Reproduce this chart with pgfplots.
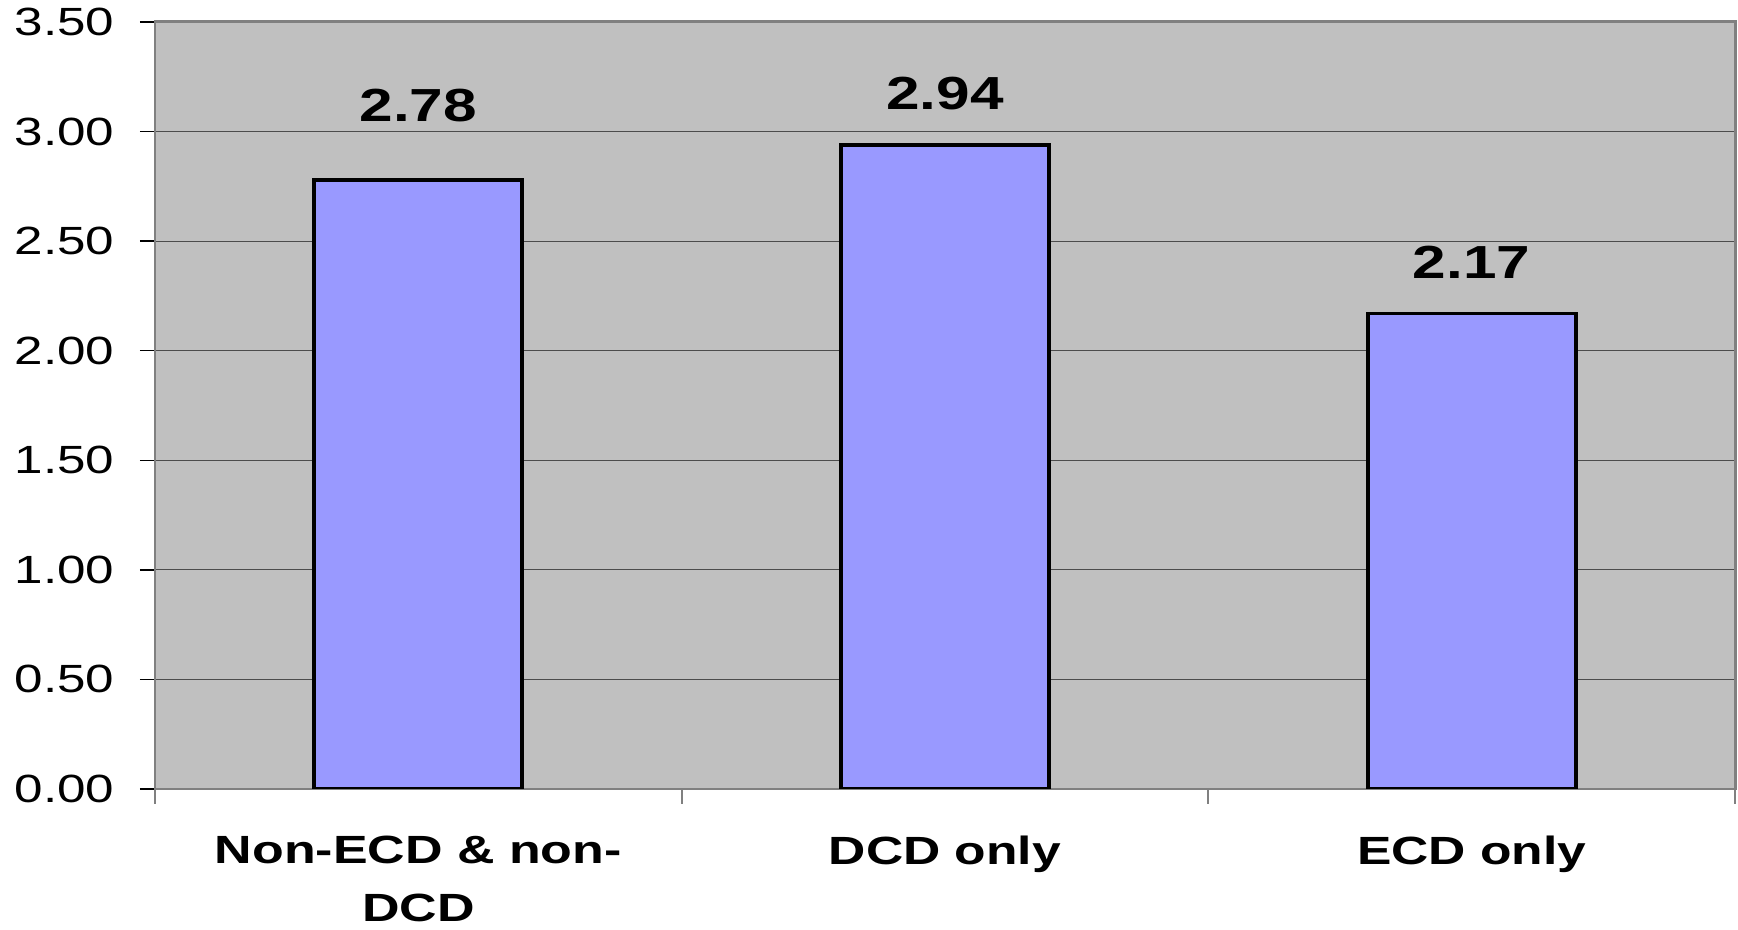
\documentclass[border=0pt]{standalone}
\usepackage{pgfplots}
\usepackage{pgfplotstable}
\pgfplotsset{compat=1.18}
\usepackage{fontspec}
\setmainfont{Liberation Sans}
\usepackage{graphicx}
\definecolor{plotgray}{HTML}{C0C0C0}
\definecolor{framegray}{HTML}{808080}
\definecolor{barblue}{HTML}{9999FF}
\pgfplotstableread{
x y off
0 2.78 5.6
1 2.94 3.25
2 2.17 3.3
}\bardata
\begin{document}
\begin{tikzpicture}
\begin{axis}[
  scale only axis, width=158mm, height=76.7mm,
  xmin=-0.5, xmax=2.5, ymin=0, ymax=3.5,
  /pgf/number format/assume math mode=true,
  axis background/.style={fill=plotgray},
  axis line style={draw=framegray, line width=0.85pt},
  ytick={0,0.5,1,1.5,2,2.5,3,3.5},
  ymajorgrids, major grid style={draw=black!70, line width=0.35pt},
  tick align=outside, ytick pos=left, xtick pos=bottom,
  major tick length=1.5mm,
  ytick style={draw=black, line width=0.4pt},
  yticklabel={\scalebox{1.3}[1]{\pgfmathprintnumber[fixed,fixed zerofill,precision=2,assume math mode=true]{\tick}}},
  yticklabel style={font=\fontsize{11.2}{13}\selectfont, anchor=east, inner sep=0pt, xshift=-2.5mm},
  xtick={-0.5,0.5,1.5,2.5}, xticklabels={},
  xtick style={draw=framegray, line width=0.6pt},
  extra x ticks={0,1,2},
  extra x tick labels={{\scalebox{1.32}[1]{Non-ECD \& non-}\\\scalebox{1.32}[1]{DCD}},\scalebox{1.31}[1]{DCD only},\scalebox{1.31}[1]{ECD only}},
  extra x tick style={major tick length=0pt, tick style={draw=none}, grid=none},
  xticklabel style={font=\fontsize{11.2}{16.5}\selectfont\bfseries, align=center, anchor=north, inner sep=0pt, yshift=-4.6mm},
  nodes near coords={\scalebox{1.3}[1]{\pgfmathprintnumber[fixed,fixed zerofill,precision=2,assume math mode=true]{\pgfplotspointmeta}}},
  visualization depends on={\thisrow{off} \as \myoff},
  nodes near coords style={font=\fontsize{13.2}{15}\selectfont\bfseries, anchor=south, inner sep=0pt, yshift=\myoff*1mm},
]
\addplot[ybar, bar width=0.395, fill=barblue, draw=black, line width=1.1pt] table[x=x, y=y] {\bardata};
\end{axis}
\pgfresetboundingbox
\path[use as bounding box] ([shift={(-15.5mm,-14.1mm)}]current axis.south west) rectangle ([shift={(0.3mm,2.2mm)}]current axis.north east);
\end{tikzpicture}
\end{document}
